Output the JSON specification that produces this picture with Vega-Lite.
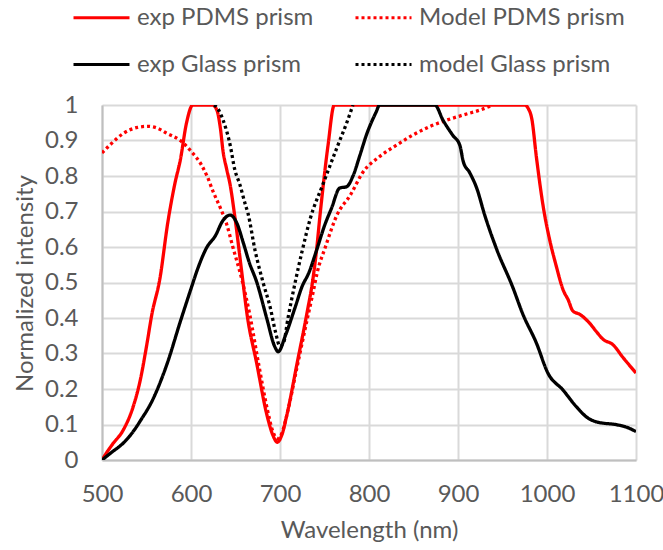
{
  "$schema": "https://vega.github.io/schema/vega-lite/v6.json",
  "width": 534,
  "height": 355,
  "autosize": {"type": "none"},
  "padding": {"left": 102, "top": 105, "right": 27, "bottom": 90},
  "background": "white",
  "config": {
    "font": "Lato",
    "view": {"stroke": null},
    "axis": {"labelFont": "Lato", "titleFont": "Lato", "labelColor": "#595959", "titleColor": "#595959", "labelFontSize": 24, "titleFontSize": 24, "titleFontWeight": "normal", "gridColor": "#d9d9d9", "gridWidth": 2, "gridOpacity": 1, "domainColor": "#bfbfbf", "domainWidth": 2, "ticks": false},
    "legend": {"labelFont": "Lato", "labelFontSize": 24, "labelColor": "#595959", "labelLimit": 400}
  },
  "data": {"values": [
    {"s":"exp PDMS prism","x":500,"y":0},{"s":"exp PDMS prism","x":505,"y":0.02},{"s":"exp PDMS prism","x":512,"y":0.045},{"s":"exp PDMS prism","x":524,"y":0.085},{"s":"exp PDMS prism","x":535,"y":0.15},{"s":"exp PDMS prism","x":543,"y":0.225},{"s":"exp PDMS prism","x":550,"y":0.32},{"s":"exp PDMS prism","x":556,"y":0.41},{"s":"exp PDMS prism","x":565,"y":0.51},{"s":"exp PDMS prism","x":574,"y":0.67},{"s":"exp PDMS prism","x":582,"y":0.78},{"s":"exp PDMS prism","x":588,"y":0.845},{"s":"exp PDMS prism","x":595,"y":0.95},{"s":"exp PDMS prism","x":602,"y":1.0},{"s":"exp PDMS prism","x":624,"y":1.0},{"s":"exp PDMS prism","x":629,"y":0.986},{"s":"exp PDMS prism","x":633,"y":0.935},{"s":"exp PDMS prism","x":636,"y":0.87},{"s":"exp PDMS prism","x":640,"y":0.82},{"s":"exp PDMS prism","x":644,"y":0.775},{"s":"exp PDMS prism","x":649,"y":0.69},{"s":"exp PDMS prism","x":657,"y":0.53},{"s":"exp PDMS prism","x":663,"y":0.41},{"s":"exp PDMS prism","x":674,"y":0.27},{"s":"exp PDMS prism","x":685,"y":0.13},{"s":"exp PDMS prism","x":692,"y":0.07},{"s":"exp PDMS prism","x":697,"y":0.05},{"s":"exp PDMS prism","x":702,"y":0.07},{"s":"exp PDMS prism","x":708,"y":0.13},{"s":"exp PDMS prism","x":719,"y":0.27},{"s":"exp PDMS prism","x":730,"y":0.41},{"s":"exp PDMS prism","x":737,"y":0.51},{"s":"exp PDMS prism","x":741,"y":0.59},{"s":"exp PDMS prism","x":745,"y":0.69},{"s":"exp PDMS prism","x":754,"y":0.887},{"s":"exp PDMS prism","x":761,"y":1.0},{"s":"exp PDMS prism","x":975,"y":1.0},{"s":"exp PDMS prism","x":979,"y":0.99},{"s":"exp PDMS prism","x":983,"y":0.96},{"s":"exp PDMS prism","x":988,"y":0.855},{"s":"exp PDMS prism","x":996,"y":0.71},{"s":"exp PDMS prism","x":1003,"y":0.62},{"s":"exp PDMS prism","x":1010,"y":0.55},{"s":"exp PDMS prism","x":1018,"y":0.48},{"s":"exp PDMS prism","x":1024,"y":0.45},{"s":"exp PDMS prism","x":1029,"y":0.42},{"s":"exp PDMS prism","x":1037,"y":0.41},{"s":"exp PDMS prism","x":1048,"y":0.385},{"s":"exp PDMS prism","x":1056,"y":0.36},{"s":"exp PDMS prism","x":1063,"y":0.34},{"s":"exp PDMS prism","x":1074,"y":0.325},{"s":"exp PDMS prism","x":1085,"y":0.29},{"s":"exp PDMS prism","x":1100,"y":0.245},

    {"s":"Model PDMS prism","x":500,"y":0.865},{"s":"Model PDMS prism","x":510,"y":0.89},{"s":"Model PDMS prism","x":524,"y":0.92},{"s":"Model PDMS prism","x":540,"y":0.937},{"s":"Model PDMS prism","x":552,"y":0.94},{"s":"Model PDMS prism","x":562,"y":0.935},{"s":"Model PDMS prism","x":573,"y":0.92},{"s":"Model PDMS prism","x":588,"y":0.9},{"s":"Model PDMS prism","x":600,"y":0.87},{"s":"Model PDMS prism","x":612,"y":0.83},{"s":"Model PDMS prism","x":618,"y":0.80},{"s":"Model PDMS prism","x":625,"y":0.755},{"s":"Model PDMS prism","x":633,"y":0.71},{"s":"Model PDMS prism","x":640,"y":0.665},{"s":"Model PDMS prism","x":647,"y":0.60},{"s":"Model PDMS prism","x":657,"y":0.51},{"s":"Model PDMS prism","x":666,"y":0.41},{"s":"Model PDMS prism","x":676,"y":0.27},{"s":"Model PDMS prism","x":686,"y":0.14},{"s":"Model PDMS prism","x":692,"y":0.08},{"s":"Model PDMS prism","x":697,"y":0.06},{"s":"Model PDMS prism","x":702,"y":0.075},{"s":"Model PDMS prism","x":708,"y":0.13},{"s":"Model PDMS prism","x":719,"y":0.26},{"s":"Model PDMS prism","x":730,"y":0.39},{"s":"Model PDMS prism","x":737,"y":0.47},{"s":"Model PDMS prism","x":742,"y":0.53},{"s":"Model PDMS prism","x":751,"y":0.60},{"s":"Model PDMS prism","x":764,"y":0.69},{"s":"Model PDMS prism","x":779,"y":0.746},{"s":"Model PDMS prism","x":793,"y":0.81},{"s":"Model PDMS prism","x":812,"y":0.855},{"s":"Model PDMS prism","x":831,"y":0.887},{"s":"Model PDMS prism","x":849,"y":0.915},{"s":"Model PDMS prism","x":869,"y":0.94},{"s":"Model PDMS prism","x":888,"y":0.958},{"s":"Model PDMS prism","x":906,"y":0.972},{"s":"Model PDMS prism","x":925,"y":0.986},{"s":"Model PDMS prism","x":939,"y":1.0},

    {"s":"exp Glass prism","x":500,"y":0},{"s":"exp Glass prism","x":510,"y":0.02},{"s":"exp Glass prism","x":524,"y":0.048},{"s":"exp Glass prism","x":535,"y":0.08},{"s":"exp Glass prism","x":543,"y":0.11},{"s":"exp Glass prism","x":557,"y":0.17},{"s":"exp Glass prism","x":573,"y":0.27},{"s":"exp Glass prism","x":588,"y":0.39},{"s":"exp Glass prism","x":601,"y":0.49},{"s":"exp Glass prism","x":607,"y":0.535},{"s":"exp Glass prism","x":618,"y":0.60},{"s":"exp Glass prism","x":627,"y":0.63},{"s":"exp Glass prism","x":636,"y":0.675},{"s":"exp Glass prism","x":644,"y":0.69},{"s":"exp Glass prism","x":651,"y":0.67},{"s":"exp Glass prism","x":659,"y":0.61},{"s":"exp Glass prism","x":665,"y":0.56},{"s":"exp Glass prism","x":674,"y":0.50},{"s":"exp Glass prism","x":685,"y":0.40},{"s":"exp Glass prism","x":694,"y":0.32},{"s":"exp Glass prism","x":698,"y":0.305},{"s":"exp Glass prism","x":706,"y":0.35},{"s":"exp Glass prism","x":717,"y":0.43},{"s":"exp Glass prism","x":725,"y":0.49},{"s":"exp Glass prism","x":732,"y":0.525},{"s":"exp Glass prism","x":741,"y":0.59},{"s":"exp Glass prism","x":750,"y":0.66},{"s":"exp Glass prism","x":758,"y":0.71},{"s":"exp Glass prism","x":767,"y":0.766},{"s":"exp Glass prism","x":775,"y":0.77},{"s":"exp Glass prism","x":782,"y":0.80},{"s":"exp Glass prism","x":790,"y":0.86},{"s":"exp Glass prism","x":797,"y":0.915},{"s":"exp Glass prism","x":808,"y":0.98},{"s":"exp Glass prism","x":812,"y":1.0},{"s":"exp Glass prism","x":874,"y":1.0},{"s":"exp Glass prism","x":883,"y":0.958},{"s":"exp Glass prism","x":894,"y":0.915},{"s":"exp Glass prism","x":902,"y":0.887},{"s":"exp Glass prism","x":906,"y":0.84},{"s":"exp Glass prism","x":913,"y":0.81},{"s":"exp Glass prism","x":921,"y":0.766},{"s":"exp Glass prism","x":930,"y":0.69},{"s":"exp Glass prism","x":944,"y":0.59},{"s":"exp Glass prism","x":961,"y":0.49},{"s":"exp Glass prism","x":973,"y":0.41},{"s":"exp Glass prism","x":988,"y":0.33},{"s":"exp Glass prism","x":1001,"y":0.245},{"s":"exp Glass prism","x":1018,"y":0.197},{"s":"exp Glass prism","x":1033,"y":0.15},{"s":"exp Glass prism","x":1045,"y":0.12},{"s":"exp Glass prism","x":1056,"y":0.107},{"s":"exp Glass prism","x":1079,"y":0.099},{"s":"exp Glass prism","x":1090,"y":0.092},{"s":"exp Glass prism","x":1100,"y":0.08},

    {"s":"model Glass prism","x":626,"y":1.0},{"s":"model Glass prism","x":630,"y":0.99},{"s":"model Glass prism","x":636,"y":0.958},{"s":"model Glass prism","x":644,"y":0.887},{"s":"model Glass prism","x":649,"y":0.82},{"s":"model Glass prism","x":655,"y":0.775},{"s":"model Glass prism","x":661,"y":0.72},{"s":"model Glass prism","x":664,"y":0.695},{"s":"model Glass prism","x":672,"y":0.59},{"s":"model Glass prism","x":681,"y":0.50},{"s":"model Glass prism","x":689,"y":0.43},{"s":"model Glass prism","x":695,"y":0.36},{"s":"model Glass prism","x":700,"y":0.32},{"s":"model Glass prism","x":704,"y":0.33},{"s":"model Glass prism","x":709,"y":0.40},{"s":"model Glass prism","x":717,"y":0.50},{"s":"model Glass prism","x":725,"y":0.59},{"s":"model Glass prism","x":734,"y":0.68},{"s":"model Glass prism","x":748,"y":0.775},{"s":"model Glass prism","x":764,"y":0.88},{"s":"model Glass prism","x":775,"y":0.95},{"s":"model Glass prism","x":782,"y":1.0}
  ]},
  "mark": {"type": "line", "strokeWidth": 3.3, "strokeCap": "butt", "interpolate": "monotone", "clip": true},
  "encoding": {
    "x": {"field": "x", "type": "quantitative", "scale": {"domain": [500, 1100], "nice": false, "zero": false},
      "axis": {"values": [500,600,700,800,900,1000,1100], "format": "d", "title": "Wavelength (nm)", "labelPadding": 22, "titleX": 267, "titleY": 77, "titleBaseline": "alphabetic", "titleAnchor": "middle", "labelFlush": false}},
    "y": {"field": "y", "type": "quantitative", "scale": {"domain": [0, 1], "nice": false},
      "axis": {"values": [0,0.1,0.2,0.3,0.4,0.5,0.6,0.7,0.8,0.9,1], "format": ".1~f", "title": "Normalized intensity", "labelPadding": 24, "titleX": -77, "titleY": 178, "titleAngle": -90, "titleBaseline": "middle", "titleAlign": "center", "labelFlush": false}},
    "color": {"field": "s", "type": "nominal",
      "scale": {"domain": ["exp PDMS prism", "exp Glass prism", "Model PDMS prism", "model Glass prism"], "range": ["#ff0000", "#000000", "#ff0000", "#000000"]},
      "legend": {"title": null, "orient": "none", "legendX": -30, "legendY": -117, "columns": 2, "symbolType": "stroke", "symbolSize": 3136, "symbolStrokeWidth": 3, "labelOffset": 6, "columnPadding": 35, "rowPadding": 5}},
    "strokeDash": {"field": "s", "type": "nominal",
      "scale": {"domain": ["exp PDMS prism", "exp Glass prism", "Model PDMS prism", "model Glass prism"], "range": [[1, 0], [1, 0], [3, 3], [3, 3]]},
      "legend": {"title": null, "orient": "none", "legendX": -30, "legendY": -117, "columns": 2, "symbolType": "stroke", "symbolSize": 3136, "symbolStrokeWidth": 3, "labelOffset": 6, "columnPadding": 35, "rowPadding": 5}}
  }
}
